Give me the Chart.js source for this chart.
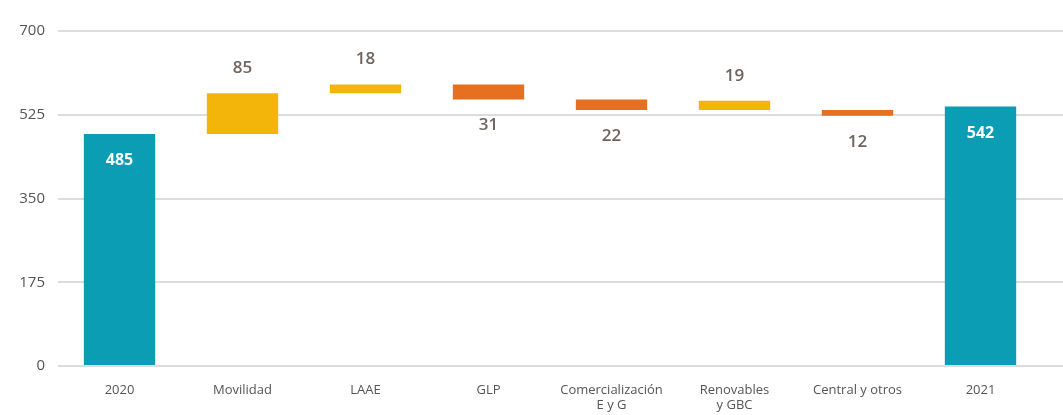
<!DOCTYPE html>
<html><head><meta charset="utf-8">
<script src="https://cdn.jsdelivr.net/npm/chart.js@4.4.1/dist/chart.umd.min.js"></script>
<style>html,body{margin:0;padding:0;background:#fff}#wrap{width:1063px;height:415px}</style>
</head><body><div id="wrap"><canvas id="c"></canvas></div>
<script>
const categories = ["2020", "Movilidad", "LAAE", "GLP", ["Comercialización", "E y G"], ["Renovables", "y GBC"], "Central y otros", "2021"];
const barLow  = [0, 485, 570, 557, 535, 535, 523, 0];
const barHigh = [485, 570, 588, 588, 557, 554, 535, 542];
const labelValues = [485, 85, 18, 31, 22, 19, 12, 542];
const barKind = ["total", "up", "up", "down", "down", "up", "down", "total"];
const yTicks = [0, 175, 350, 525, 700];

const colors = {total: "#0a9db4", up: "#f4b50a", down: "#e6701f"};

const labelPlugin = {
  id: "labels",
  beforeDatasetsDraw(chart) {
    const ctx = chart.ctx, ys = chart.scales.y, a = chart.chartArea;
    ctx.save();
    ctx.strokeStyle = "#dcdcdc"; ctx.lineWidth = 2;
    yTicks.forEach(t => {
      const y = Math.round(ys.getPixelForValue(t));
      ctx.beginPath(); ctx.moveTo(a.right, y); ctx.lineTo(chart.width, y); ctx.stroke();
    });
    ctx.restore();
  },
  afterDatasetsDraw(chart) {
    const ctx = chart.ctx;
    const meta = chart.getDatasetMeta(0);
    ctx.save();
    ctx.textAlign = "center"; ctx.textBaseline = "middle";
    meta.data.forEach((el, i) => {
      const p = el.getProps(["x", "y", "base"], true);
      const top = Math.min(p.y, p.base), bot = Math.max(p.y, p.base);
      const k = barKind[i];
      if (k === "total") {
        ctx.fillStyle = "#ffffff"; ctx.font = "bold 16px 'Open Sans'";
        ctx.fillText(String(labelValues[i]), p.x, top + 27);
      } else if (k === "up") {
        ctx.fillStyle = "#6f655d"; ctx.font = "600 17px 'Open Sans'";
        ctx.fillText(String(labelValues[i]), p.x, top - 25);
      } else {
        ctx.fillStyle = "#6f655d"; ctx.font = "600 17px 'Open Sans'";
        ctx.fillText(String(labelValues[i]), p.x, bot + 26);
      }
    });
    ctx.restore();
  }
};

new Chart(document.getElementById("c"), {
  type: "bar",
  data: {
    labels: categories,
    datasets: [{
      data: barLow.map((lo, i) => [lo, barHigh[i]]),
      backgroundColor: barKind.map(k => colors[k]),
      borderWidth: 0,
      barPercentage: 0.58,
      categoryPercentage: 1.0
    }]
  },
  options: {
    responsive: true, maintainAspectRatio: false, animation: false,
    layout: {padding: {top: 31, right: 21, left: 0, bottom: 0}},
    plugins: {legend: {display: false}, tooltip: {enabled: false}},
    scales: {
      x: {
        grid: {display: false},
        border: {display: false},
        ticks: {color: "#555", font: {family: "'Open Sans'", size: 13}, padding: 8, maxRotation: 0, autoSkip: false},
        afterFit(s) { s.height = 49; }
      },
      y: {
        min: 0, max: 700,
        afterBuildTicks(s) { s.ticks = yTicks.map(v => ({value: v})); },
        grid: {color: "#dcdcdc", lineWidth: 2, drawTicks: false},
        border: {display: false},
        ticks: {color: "#555", font: {family: "'Open Sans'", size: 15}, padding: 13},
        afterFit(s) { s.width = 58; }
      }
    }
  },
  plugins: [labelPlugin]
});
</script></body></html>
